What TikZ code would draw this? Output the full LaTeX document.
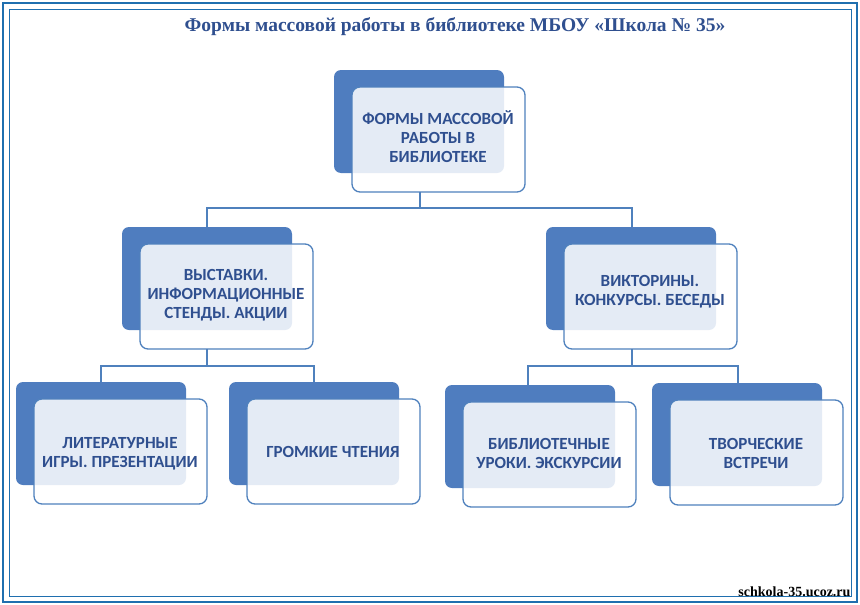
\documentclass[tikz,border=0pt]{standalone}
\usepackage{fontspec}
\setmainfont{Liberation Serif}
\newfontfamily\boxfont{Carlito}
\usetikzlibrary{positioning}
\definecolor{backblue}{HTML}{4F7DBF}
\definecolor{lineblue}{HTML}{4F81BD}
\definecolor{textblue}{HTML}{2F4F8F}
\definecolor{frameblue}{HTML}{1F6FAF}
\tikzset{back/.style={fill=backblue, rounded corners=7pt}}
\tikzset{front/.style={draw=lineblue, line width=1.3pt, fill=white, fill opacity=0.85,
    text opacity=1, rounded corners=8pt}}
\tikzset{link/.style={draw=lineblue, line width=1.2pt}}
\tikzset{lbl/.style={text=textblue, font=\boxfont\bfseries\fontsize{17}{19}\selectfont, align=center}}
\begin{document}
\begin{tikzpicture}[x=1pt, y=-1pt]
\useasboundingbox (0,0) rectangle (860,605);
% frame
\draw[frameblue, line width=2.5pt] (3,3) rectangle (857,602);
\draw[frameblue, line width=1pt] (9,9) rectangle (851,596);
\node[text=textblue, font=\bfseries\fontsize{19.5}{22}\selectfont] (title) at (455,27)
  {Формы массовой работы в библиотеке МБОУ «Школа № 35»};
% boxes
\newcommand\orgbox[5]{%
  \fill[back] (#1,#2) rectangle +(170,103);
  \draw[front] (#1+18,#2+17) rectangle +(173,105);
  \node[lbl] (#3) at (#1+104,#2+#4) {#5};}
\orgbox{334}{70}{top}{67}{ФОРМЫ МАССОВОЙ\\РАБОТЫ В\\БИБЛИОТЕКЕ}
\orgbox{122}{227}{exh}{68}{ВЫСТАВКИ.\\ИНФОРМАЦИОННЫЕ\\СТЕНДЫ. АКЦИИ}
\orgbox{546}{227}{quiz}{65}{ВИКТОРИНЫ.\\КОНКУРСЫ. БЕСЕДЫ}
\orgbox{16}{382}{games}{72}{ЛИТЕРАТУРНЫЕ\\ИГРЫ. ПРЕЗЕНТАЦИИ}
\orgbox{229}{382}{read}{70}{ГРОМКИЕ ЧТЕНИЯ}
\orgbox{445}{385}{less}{68}{БИБЛИОТЕЧНЫЕ\\УРОКИ. ЭКСКУРСИИ}
\orgbox{652}{383}{meet}{70}{ТВОРЧЕСКИЕ\\ВСТРЕЧИ}
% connectors
\coordinate (t0) at (420,192);
\coordinate (e0) at (207,227);
\coordinate (q0) at (632,227);
\draw[link] (t0) -- (420,208) -| (e0);
\draw[link] (420,208) -| (q0);
\coordinate (e1) at (207,349);
\draw[link] (e1) -- (207,366) -| (101,382);
\draw[link] (207,366) -| (314,382);
\coordinate (q1) at (632,349);
\draw[link] (q1) -- (632,366) -| (528,385);
\draw[link] (632,366) -| (738,383);
\node[font=\bfseries\fontsize{14}{15}\selectfont, anchor=south east] (site) at (854,600) {schkola-35.ucoz.ru};
\end{tikzpicture}
\end{document}
